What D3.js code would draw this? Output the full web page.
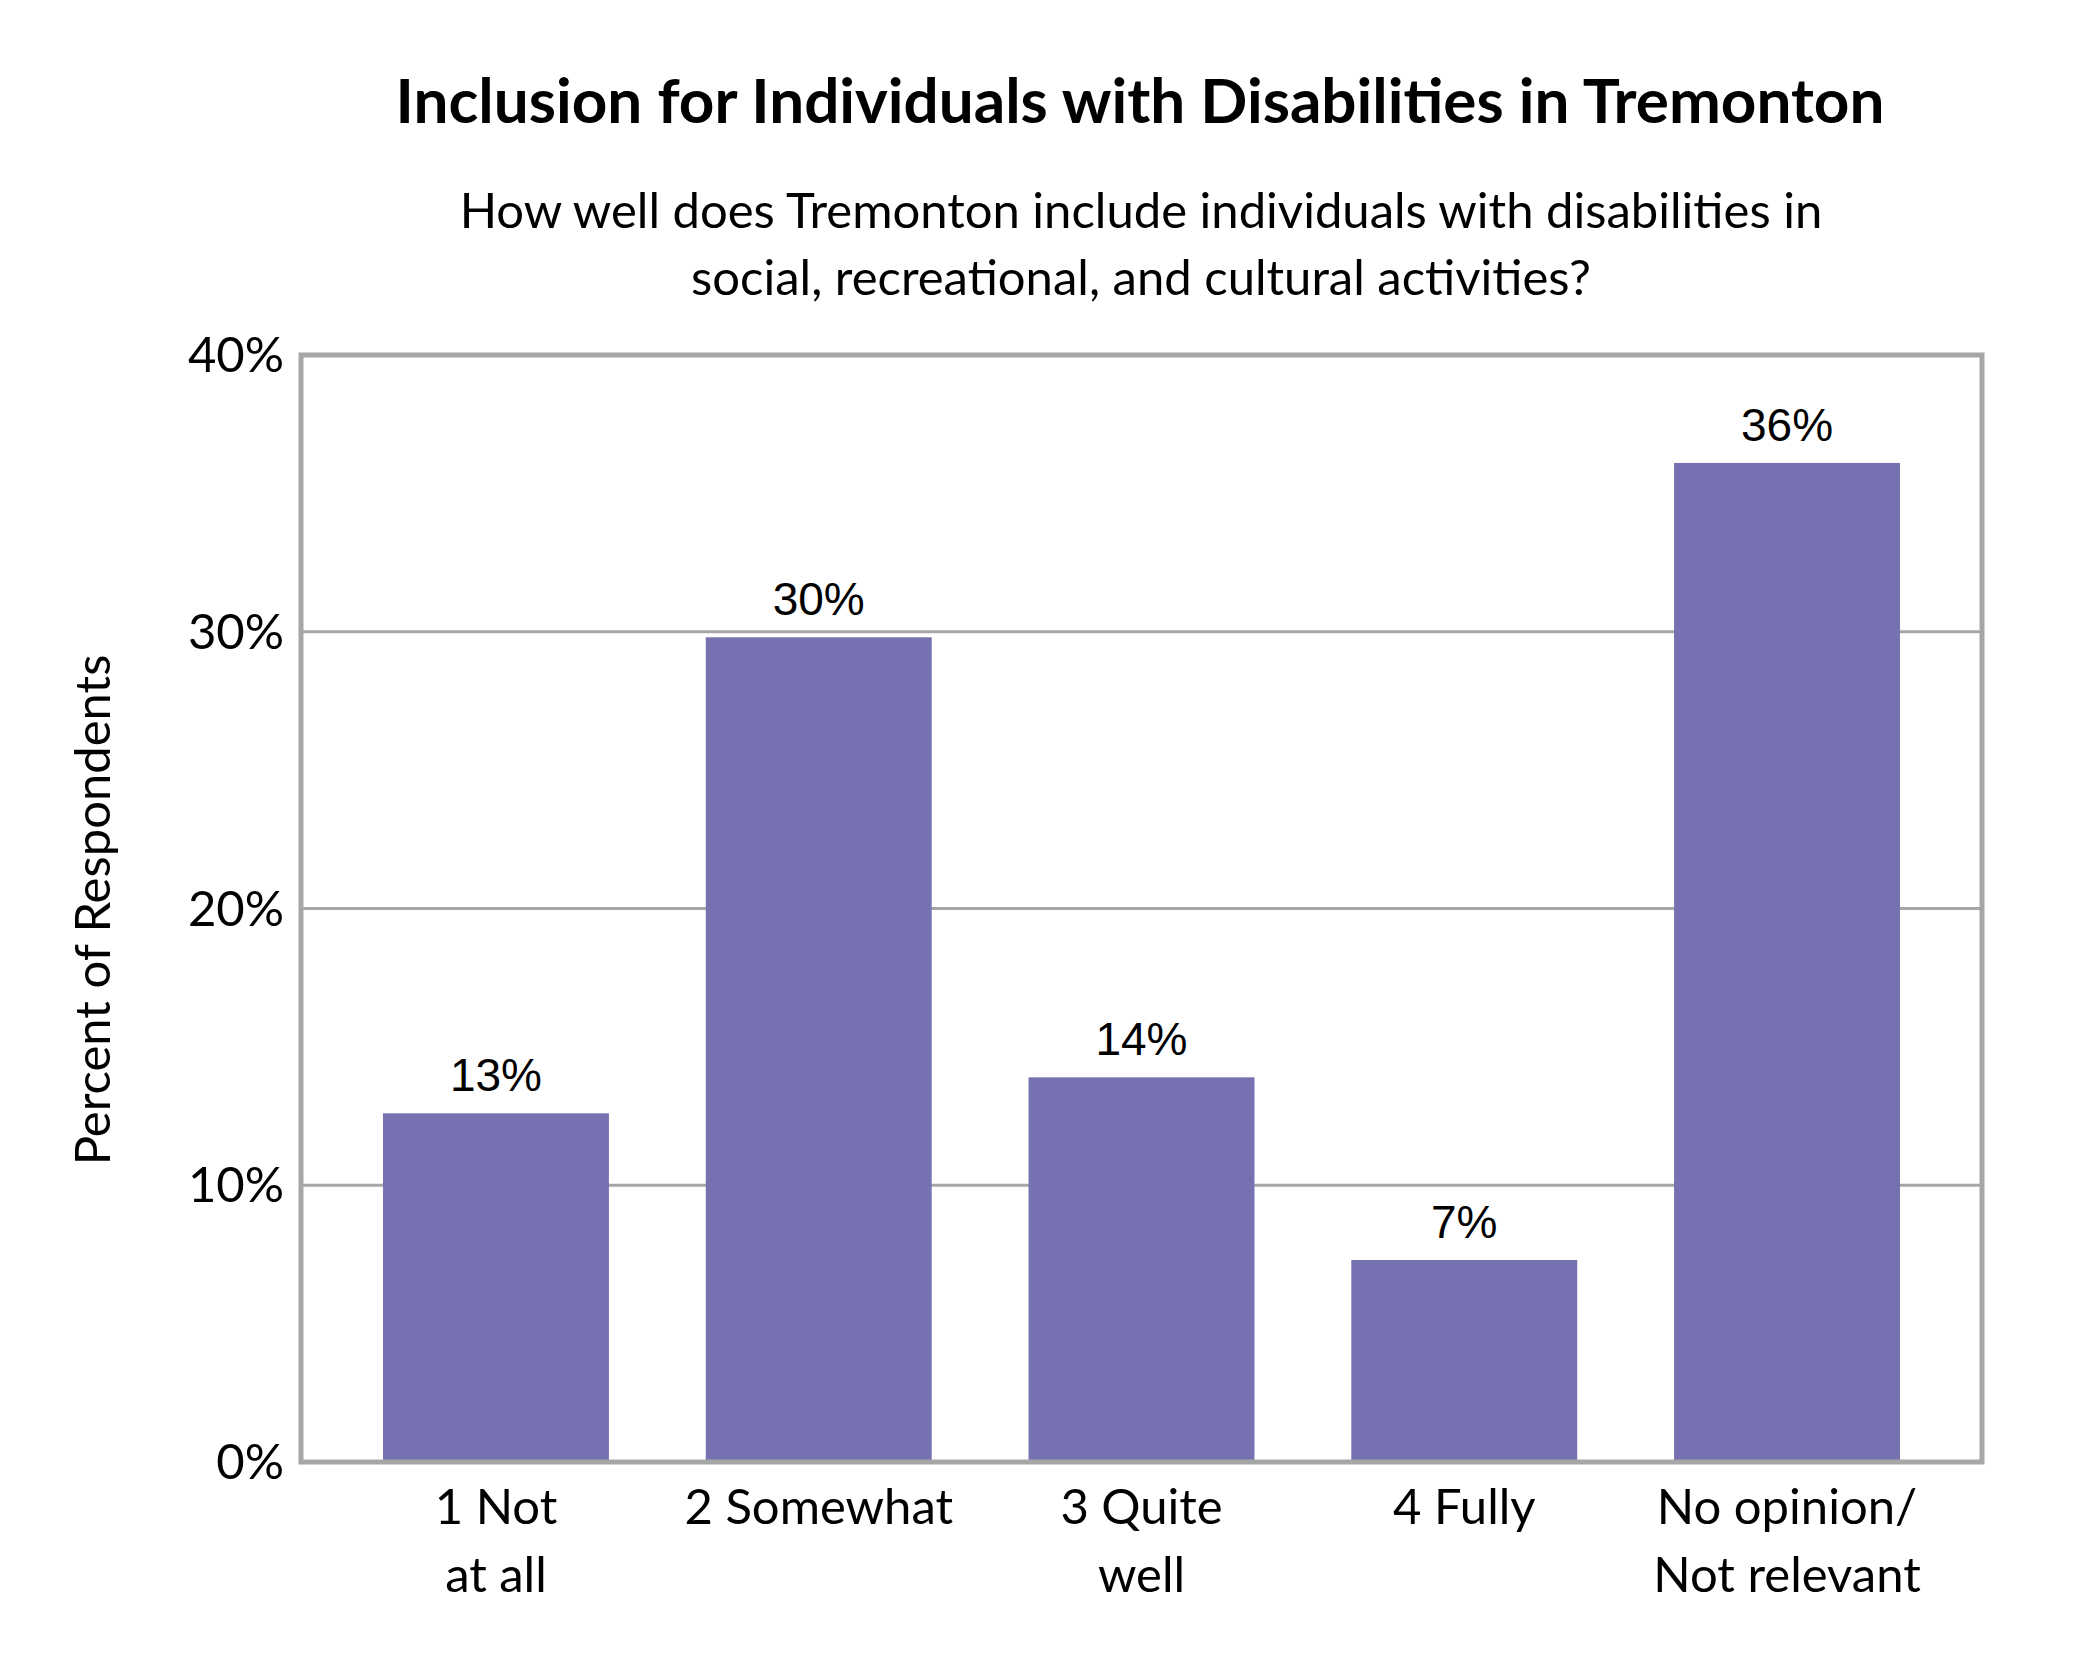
<!DOCTYPE html>
<html><head><meta charset="utf-8">
<script src="https://cdn.jsdelivr.net/npm/d3@7"></script>
<style>body{margin:0;background:#fff}</style></head>
<body><svg id="c" width="2100" height="1680"></svg>
<script>
const categories = [["1 Not","at all"],["2 Somewhat"],["3 Quite","well"],["4 Fully"],["No opinion/","Not relevant"]];
const values = [12.6, 29.8, 13.9, 7.3, 36.1];
const valueLabels = ["13%","30%","14%","7%","36%"];
const yTicks = [0,10,20,30,40];

const svg = d3.select("#c");
const L=301,R=1982,T=355,B=1462;
const x = d3.scaleBand().domain(d3.range(values.length)).range([L,R]).paddingInner(0.3).paddingOuter(0.254);
const y = d3.scaleLinear().domain([0,40]).range([B,T]);
const font = "Lato, 'Open Sans', sans-serif";

svg.append("text").attr("x",1140).attr("y",123).attr("text-anchor","middle")
  .attr("font-family",font).attr("font-weight","bold").attr("font-size",62).text("Inclusion for Individuals with Disabilities in Tremonton");
["How well does Tremonton include individuals with disabilities in","social, recreational, and cultural activities?"].forEach((t,i)=>
  svg.append("text").attr("x",1141).attr("y",228+i*67).attr("text-anchor","middle")
   .attr("font-family",font).attr("font-size",49).text(t));

svg.append("g").selectAll("line").data(yTicks.slice(1,-1)).join("line")
  .attr("x1",L).attr("x2",R).attr("y1",d=>y(d)).attr("y2",d=>y(d)).attr("stroke","#a6a6a6").attr("stroke-width",3);

svg.append("g").selectAll("rect").data(values).join("rect")
  .attr("x",(d,i)=>x(i)).attr("width",x.bandwidth()).attr("y",d=>y(d)).attr("height",d=>B-y(d)).attr("fill","#7672b2");

svg.append("rect").attr("x",L).attr("y",T).attr("width",R-L).attr("height",B-T).attr("fill","none").attr("stroke","#a6a6a6").attr("stroke-width",5);

const lg = svg.append("g").selectAll("g").data(values).join("g");
lg.each(function(d,i){
  const g=d3.select(this);
  const t=g.append("text").attr("x",x(i)+x.bandwidth()/2).attr("y",y(d)-22).attr("text-anchor","middle")
   .attr("font-family","'Liberation Sans', Arial, sans-serif").attr("font-size",46).text(valueLabels[i]);
  const bb=t.node().getBBox();
  g.insert("rect","text").attr("x",bb.x-4).attr("y",bb.y).attr("width",bb.width+8).attr("height",bb.height).attr("fill","#fff");
});

svg.append("g").selectAll("text").data(yTicks).join("text")
  .attr("x",284).attr("y",d=>y(d)+17).attr("text-anchor","end")
  .attr("font-family",font).attr("font-size",49).text(d=>d+"%");

categories.forEach((c,i)=>c.forEach((t,j)=>
  svg.append("text").attr("x",x(i)+x.bandwidth()/2).attr("y",1524+j*68).attr("text-anchor","middle")
   .attr("font-family",font).attr("font-size",49).text(t)));

svg.append("text").attr("transform","translate(110,910) rotate(-90)").attr("text-anchor","middle")
  .attr("font-family",font).attr("font-size",49).text("Percent of Respondents");
</script></body></html>
